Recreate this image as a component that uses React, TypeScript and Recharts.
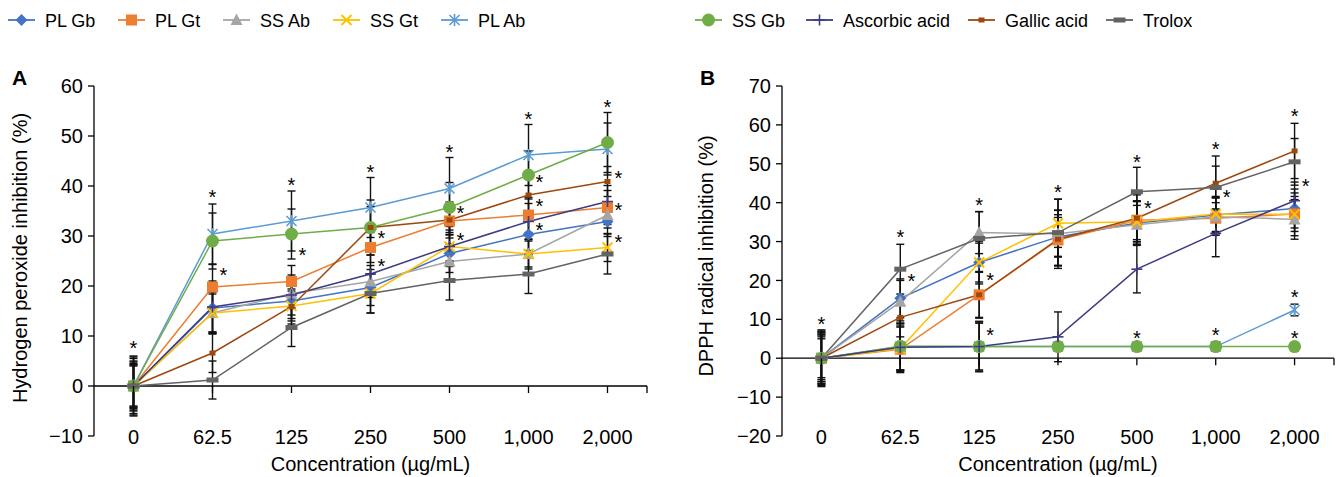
import React from 'react';
import { LineChart, Line, XAxis, YAxis, ErrorBar, ReferenceLine, ReferenceDot } from 'recharts';

// ---------- DATA ----------
const categories = ['0', '62.5', '125', '250', '500', '1,000', '2,000'];
const seriesNames = ['PL Gb', 'PL Gt', 'SS Ab', 'SS Gt', 'PL Ab', 'SS Gb', 'Ascorbic acid', 'Gallic acid', 'Trolox'];
const seriesColors = ['#4472C4', '#ED7D31', '#A5A5A5', '#FFC000', '#5B9BD5', '#70AD47', '#3D3B82', '#9E480E', '#636363'];
const seriesMarkers = ['diamond', 'square', 'triangle', 'x', 'star', 'circle', 'plus', 'smallsq', 'dash'];

// Panel A: hydrogen peroxide inhibition (%)
const aPLGb = [0, 15.6, 17.0, 19.7, 26.5, 30.3, 32.9];
const aPLGt = [0, 19.8, 20.9, 27.7, 33.0, 34.2, 35.7];
const aSSAb = [0, 14.6, 18.5, 20.9, 24.9, 26.4, 34.2];
const aSSGt = [0, 14.6, 16.0, 18.5, 27.9, 26.4, 27.7];
const aPLAb = [0, 30.4, 33.0, 35.7, 39.5, 46.2, 47.4];
const aSSGb = [0, 29.0, 30.4, 31.7, 35.7, 42.2, 48.7];
const aAscorbic = [0, 15.8, 18.2, 22.4, 27.9, 32.9, 36.9];
const aGallic = [0, 6.6, 15.9, 31.7, 33.2, 38.2, 40.9];
const aTrolox = [0, 1.2, 11.7, 18.5, 21.1, 22.4, 26.4];

const aPLGbErr = [4.5, 4.8, 3.5, 3.6, 3.8, 3.2, 3.0];
const aPLGtErr = [5.0, 4.5, 3.2, 3.0, 2.8, 3.5, 3.4];
const aSSAbErr = [4.0, 4.2, 2.8, 3.2, 3.5, 3.0, 2.6];
const aSSGtErr = [4.2, 3.8, 3.0, 3.9, 3.3, 2.6, 2.8];
const aPLAbErr = [6.0, 6.0, 6.0, 6.0, 6.2, 6.1, 5.2];
const aSSGbErr = [5.5, 5.6, 5.0, 5.5, 5.0, 4.8, 6.0];
const aAscorbicErr = [4.8, 5.2, 4.0, 3.8, 4.0, 3.6, 3.2];
const aGallicErr = [4.3, 3.9, 3.5, 4.2, 3.6, 3.3, 3.0];
const aTroloxErr = [5.8, 3.8, 3.8, 3.9, 3.9, 3.9, 4.0];

// Panel B: DPPH radical inhibition (%)
const bPLGb = [0, 15.4, 24.6, 31.2, 34.8, 36.8, 38.5];
const bPLGt = [0, 2.3, 16.3, 30.4, 35.5, 36.0, 37.1];
const bSSAb = [0, 14.5, 32.3, 32.0, 34.3, 36.4, 35.7];
const bSSGt = [0, 2.5, 24.6, 34.7, 35.1, 37.1, 37.0];
const bPLAb = [0, 3.0, 3.0, 3.0, 3.0, 3.0, 12.4];
const bSSGb = [0, 3.1, 3.0, 3.0, 3.0, 3.0, 3.0];
const bAscorbic = [0, 2.8, 3.0, 5.5, 22.9, 32.1, 40.5];
const bGallic = [0, 10.5, 16.3, 30.6, 36.0, 45.0, 53.3];
const bTrolox = [0, 22.9, 30.8, 32.3, 42.8, 43.9, 50.5];

const bPLGbErr = [5.0, 5.0, 5.5, 5.0, 5.5, 4.5, 5.0];
const bPLGtErr = [6.0, 6.0, 6.0, 6.5, 5.0, 4.0, 4.5];
const bSSAbErr = [5.5, 5.5, 5.4, 6.0, 5.0, 4.8, 5.1];
const bSSGtErr = [6.5, 5.5, 5.0, 6.2, 5.2, 4.5, 5.5];
const bPLAbErr = [7.0, 6.0, 6.0, 1.0, 1.0, 1.0, 1.5];
const bSSGbErr = [7.3, 6.5, 6.5, 1.0, 1.0, 1.2, 0.5];
const bAscorbicErr = [6.8, 6.0, 6.3, 6.4, 6.1, 6.0, 4.8];
const bGallicErr = [6.0, 5.0, 5.8, 7.5, 6.0, 7.0, 7.1];
const bTroloxErr = [6.5, 6.4, 6.9, 8.6, 6.3, 5.5, 6.0];

const aTicks = [-10, 0, 10, 20, 30, 40, 50, 60];
const bTicks = [-20, -10, 0, 10, 20, 30, 40, 50, 60, 70];

// significance asterisks: [category, value, side?]
const aStars: [string, number, boolean][] = [
  ['0', 8.0, false], ['62.5', 38.2, false], ['125', 40.6, false], ['250', 43.2, false],
  ['500', 47.2, false], ['1,000', 53.8, false], ['2,000', 56.2, false],
  ['62.5', 22.6, true], ['125', 26.6, true], ['250', 30.0, true], ['250', 24.4, true],
  ['500', 35.0, true], ['500', 29.6, true], ['1,000', 41.2, true], ['1,000', 36.4, true],
  ['1,000', 31.6, true], ['2,000', 42.0, true], ['2,000', 35.6, true], ['2,000', 29.2, true],
];
const bStars: [string, number, boolean][] = [
  ['0', 9.3, false], ['62.5', 31.7, false], ['125', 40.0, false], ['250', 43.2, false],
  ['500', 51.1, false], ['1,000', 54.4, false], ['2,000', 62.7, false],
  ['62.5', 20.4, true], ['125', 20.6, true], ['125', 6.5, true], ['500', 39.1, true],
  ['1,000', 42.1, true], ['2,000', 44.7, true],
  ['500', 5.7, false], ['1,000', 6.6, false], ['2,000', 16.3, false], ['2,000', 5.7, false],
];

const aValues = [aPLGb, aPLGt, aSSAb, aSSGt, aPLAb, aSSGb, aAscorbic, aGallic, aTrolox];
const aErrors = [aPLGbErr, aPLGtErr, aSSAbErr, aSSGtErr, aPLAbErr, aSSGbErr, aAscorbicErr, aGallicErr, aTroloxErr];
const bValues = [bPLGb, bPLGt, bSSAb, bSSGt, bPLAb, bSSGb, bAscorbic, bGallic, bTrolox];
const bErrors = [bPLGbErr, bPLGtErr, bSSAbErr, bSSGtErr, bPLAbErr, bSSGbErr, bAscorbicErr, bGallicErr, bTroloxErr];

function buildRows(values: number[][], errors: number[][]) {
  return categories.map((c, i) => {
    const row: any = { cat: c };
    values.forEach((v, s) => {
      row['s' + s] = v[i];
      row['e' + s] = errors[s][i];
    });
    return row;
  });
}

const aRows = buildRows(aValues, aErrors);
const bRows = buildRows(bValues, bErrors);

// ---------- STYLE / LAYOUT ----------
const FONT = "'Liberation Sans', Arial, Helvetica, sans-serif";
const CH = 477;
const PLOT_TOP = 86;
const PLOT_BOTTOM = 436;
const PLOT_H = PLOT_BOTTOM - PLOT_TOP;
const Y_AXIS_W = 94;
const X_AXIS_H = CH - PLOT_BOTTOM;
const TICK_FS = 20;
const TITLE_FS = 20;

function Marker({ type, color, cx, cy }: { type: string; color: string; cx: number; cy: number }) {
  if (cx == null || cy == null || isNaN(cx) || isNaN(cy)) return <g />;
  switch (type) {
    case 'diamond':
      return <polygon points={`${cx},${cy - 6} ${cx + 6},${cy} ${cx},${cy + 6} ${cx - 6},${cy}`} fill={color} />;
    case 'square':
      return <rect x={cx - 5.5} y={cy - 5.5} width={11} height={11} fill={color} />;
    case 'triangle':
      return <polygon points={`${cx},${cy - 6.5} ${cx + 6},${cy + 5} ${cx - 6},${cy + 5}`} fill={color} />;
    case 'x':
      return (
        <g stroke={color} strokeWidth={2}>
          <line x1={cx - 5} y1={cy - 5} x2={cx + 5} y2={cy + 5} />
          <line x1={cx - 5} y1={cy + 5} x2={cx + 5} y2={cy - 5} />
        </g>
      );
    case 'star':
      return (
        <g stroke={color} strokeWidth={1.6}>
          <line x1={cx - 5} y1={cy - 5} x2={cx + 5} y2={cy + 5} />
          <line x1={cx - 5} y1={cy + 5} x2={cx + 5} y2={cy - 5} />
          <line x1={cx} y1={cy - 6} x2={cx} y2={cy + 6} />
        </g>
      );
    case 'circle':
      return <circle cx={cx} cy={cy} r={6.5} fill={color} />;
    case 'plus':
      return (
        <g stroke={color} strokeWidth={1.6}>
          <line x1={cx - 5.5} y1={cy} x2={cx + 5.5} y2={cy} />
          <line x1={cx} y1={cy - 5.5} x2={cx} y2={cy + 5.5} />
        </g>
      );
    case 'smallsq':
      return <rect x={cx - 3} y={cy - 2.5} width={6} height={5} fill={color} />;
    case 'dash':
      return <rect x={cx - 6} y={cy - 2.5} width={12} height={5} fill={color} />;
    default:
      return <g />;
  }
}

const fmtY = (v: number) => (v < 0 ? '\u2212' + Math.abs(v) : String(v));

function Panel({ left, width, rightMargin, rows, domain, ticks, stars }: any) {
  const zeroY = PLOT_TOP + (domain[1] / (domain[1] - domain[0])) * PLOT_H;
  const plotW = width - Y_AXIS_W - rightMargin;
  const half = plotW / categories.length / 2;
  const XTick = (p: any) => (
    <g>
      <text x={p.x} y={PLOT_BOTTOM + 8} textAnchor="middle" fontSize={TICK_FS} fontFamily={FONT} fill="#000">
        {p.payload.value}
      </text>
      <line x1={p.x} y1={zeroY} x2={p.x} y2={zeroY + 7} stroke="#000" strokeWidth={1.3} />
      {p.index === categories.length - 1 ? (
        <line x1={p.x + half} y1={zeroY} x2={p.x + half} y2={zeroY + 7} stroke="#000" strokeWidth={1.3} />
      ) : null}
    </g>
  );
  return (
    <div style={{ position: 'absolute', left, top: 0 }}>
      <LineChart width={width} height={CH} data={rows} margin={{ top: PLOT_TOP, right: rightMargin, bottom: 0, left: 0 }}>
        <XAxis
          dataKey="cat"
          type="category"
          height={X_AXIS_H}
          axisLine={false}
          tickLine={false}
          tickSize={0}
          tickMargin={0}
          interval={0}
          padding={{ left: half, right: half }}
          tick={XTick}
        />
        <YAxis
          type="number"
          domain={domain}
          ticks={ticks}
          interval={0}
          allowDataOverflow
          width={Y_AXIS_W}
          axisLine={{ stroke: '#000', strokeWidth: 1.3 }}
          tickLine={{ stroke: '#000', strokeWidth: 1.3 }}
          tickSize={6}
          tickMargin={5}
          tick={{ fill: '#000', fontSize: TICK_FS, fontFamily: FONT }}
          tickFormatter={fmtY}
        />
        <ReferenceLine y={0} stroke="#000" strokeWidth={1.3} />
        {seriesNames.map((name, i) => (
          <Line
            key={name}
            name={name}
            dataKey={'s' + i}
            type="linear"
            stroke={seriesColors[i]}
            strokeWidth={1.5}
            isAnimationActive={false}
            activeDot={false}
            dot={(p: any) => (
              <Marker key={`m${i}-${p.index}`} type={seriesMarkers[i]} color={seriesColors[i]} cx={p.cx} cy={p.cy} />
            )}
          >
            <ErrorBar dataKey={'e' + i} width={4} stroke="#111" strokeWidth={1.4} direction="y" />
          </Line>
        ))}
        {stars.map((s: [string, number, boolean], k: number) => (
          <ReferenceDot
            key={'st' + k}
            x={s[0]}
            y={s[1]}
            r={0}
            shape={(p: any) => (
              <text
                x={p.cx + (s[2] ? 11 : 0)}
                y={p.cy + 9}
                textAnchor="middle"
                fontSize={20}
                fontFamily={FONT}
                fill="#000"
              >
                *
              </text>
            )}
          />
        ))}
      </LineChart>
    </div>
  );
}

const legendLineX = [8, 118, 223, 333, 441, 695, 806, 968, 1106];

export default function App() {
  return (
    <div style={{ position: 'absolute', left: 0, top: 0, width: 1338, height: CH, background: '#fff', overflow: 'hidden' }}>
      <Panel left={0} width={670} rightMargin={23} rows={aRows} domain={[-10, 60]} ticks={aTicks} stars={aStars} />
      <Panel left={688} width={650} rightMargin={4} rows={bRows} domain={[-20, 70]} ticks={bTicks} stars={bStars} />
      <svg width={1338} height={CH} style={{ position: 'absolute', left: 0, top: 0, pointerEvents: 'none' }}>
        {seriesNames.map((name, i) => {
          const x1 = legendLineX[i];
          const x2 = x1 + 27;
          const cy = 20;
          return (
            <g key={name}>
              <line x1={x1} y1={cy} x2={x2} y2={cy} stroke={seriesColors[i]} strokeWidth={1.8} />
              <Marker type={seriesMarkers[i]} color={seriesColors[i]} cx={(x1 + x2) / 2} cy={cy} />
              <text x={x2 + 10} y={cy + 6.5} fontSize={18} fontFamily={FONT} fill="#000">
                {name}
              </text>
            </g>
          );
        })}
        <text x={12} y={85} fontSize={21} fontWeight="bold" fontFamily={FONT} fill="#000">A</text>
        <text x={700} y={85} fontSize={21} fontWeight="bold" fontFamily={FONT} fill="#000">B</text>
        <text
          x={20}
          y={258}
          transform="rotate(-90, 20, 258)"
          textAnchor="middle"
          dominantBaseline="central"
          fontSize={TITLE_FS}
          fontFamily={FONT}
          fill="#000"
        >
          Hydrogen peroxide inhibition (%)
        </text>
        <text
          x={706}
          y={256}
          transform="rotate(-90, 706, 256)"
          textAnchor="middle"
          dominantBaseline="central"
          fontSize={TITLE_FS}
          fontFamily={FONT}
          fill="#000"
        >
          DPPH radical inhibition (%)
        </text>
        <text x={370.5} y={471} textAnchor="middle" fontSize={TITLE_FS} fontFamily={FONT} fill="#000">
          Concentration (µg/mL)
        </text>
        <text x={1058} y={471} textAnchor="middle" fontSize={TITLE_FS} fontFamily={FONT} fill="#000">
          Concentration (µg/mL)
        </text>
      </svg>
    </div>
  );
}
